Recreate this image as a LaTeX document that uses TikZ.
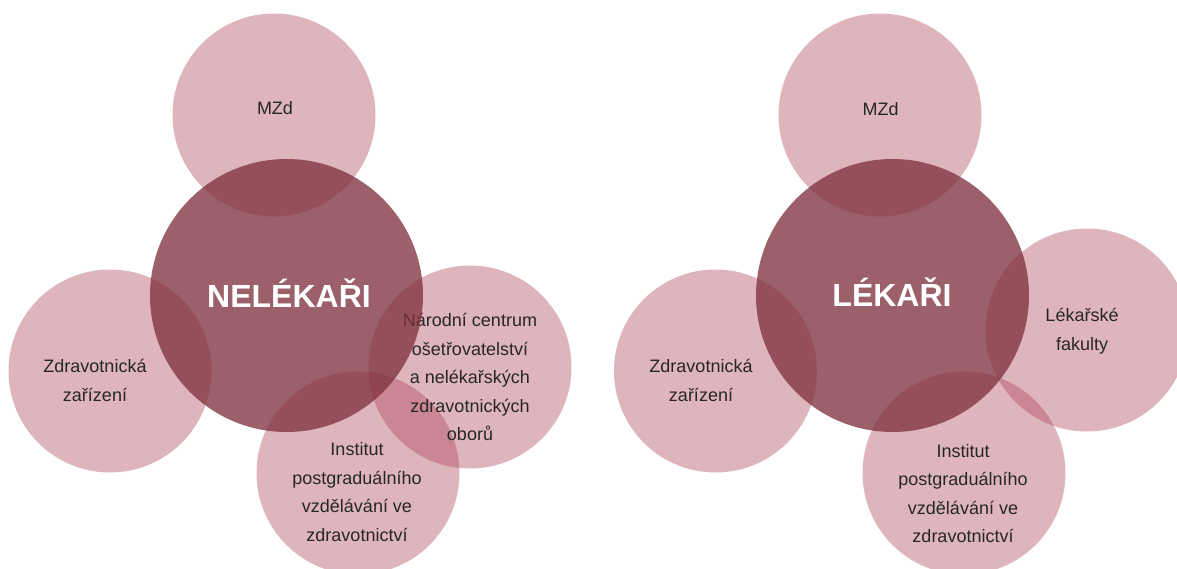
\documentclass[tikz,border=0pt]{standalone}
\usepackage{fontspec}
\setmainfont{Liberation Sans}
\usepackage{tikz}

\definecolor{petalred}{RGB}{170,58,79}
\definecolor{corered}{RGB}{126,48,61}
\definecolor{ink}{RGB}{38,38,38}

\begin{document}
\begin{tikzpicture}[x = 1pt, y = -1pt,
		petal/.style = {circle, fill = petalred, fill opacity = 0.375, minimum size = 203pt, inner sep = 0pt},
		core/.style = {circle, fill = corered, fill opacity = 0.77, minimum size = 273pt, inner sep = 0pt},
		petaltext/.style = {align = center, text = ink, inner sep = 0pt, font = \fontsize{18}{28.5}\selectfont},
		coretext/.style = {anchor = base, text = white, inner sep = 0pt, font = \bfseries\fontsize{32}{38}\selectfont}]
			\useasboundingbox (0, 0) rectangle (1177, 569);
			% left group
			\node[petal] (mzdL) at (274, 115) {};
			\node[petal] (zdrL) at (110, 371) {};
			\node[petal] (centrum) at (470, 367) {};
			\node[petal] (instL) at (358, 473) {};
				\node[petaltext] (mzdLtext) at (275, 108) {MZd};
				\node[petaltext] (zdrLtext) at (95, 380.5) {Zdravotnická\\zařízení};
				\node[petaltext] (centrumtext) at (470, 377) {Národní centrum\\ošetřovatelství\\a nelékařských\\zdravotnických\\oborů};
				\node[petaltext] (instLtext) at (357, 492) {Institut\\postgraduálního\\vzdělávání ve\\zdravotnictví};
			\node[core] (nelekari) at (286.5, 295.5) {};
				\node[coretext] (nelekaritext) at (289, 307) {NELÉKAŘI};
			% right group
			\node[petal] (mzdR) at (880, 115) {};
			\node[petal] (zdrR) at (715.5, 371) {};
			\node[petal] (fakulty) at (1087, 330) {};
			\node[petal] (instR) at (964, 473) {};
				\node[petaltext] (mzdRtext) at (880.5, 109) {MZd};
				\node[petaltext] (zdrRtext) at (701, 380.5) {Zdravotnická\\zařízení};
				\node[petaltext] (fakultytext) at (1082, 331) {Lékařské\\fakulty};
				\node[petaltext] (instRtext) at (963, 493.5) {Institut\\postgraduálního\\vzdělávání ve\\zdravotnictví};
			\node[core] (lekari) at (892.5, 295.5) {};
				\node[coretext] (lekaritext) at (892, 306) {LÉKAŘI};
		\end{tikzpicture}
\end{document}
